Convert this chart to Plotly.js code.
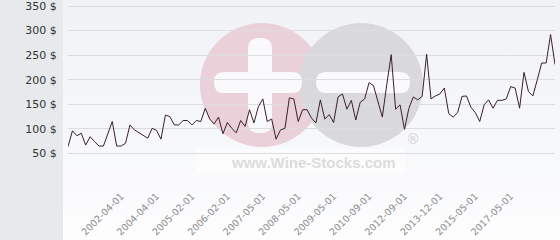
<!DOCTYPE html>
<html>
<head>
<meta charset="utf-8">
<script src="https://cdn.plot.ly/plotly-3.0.1.min.js"></script>
<style>
  html, body { margin: 0; padding: 0; }
  #wrap {
    width: 560px; height: 240px;
    background:
      linear-gradient(to right, #e6eaed 0px, #e6eaed 63px, rgba(0,0,0,0) 63px),
      linear-gradient(to bottom, #f1f2f6 0%, #f7f8fa 60%, #fdfdfe 100%);
  }
  #chart { width: 560px; height: 240px; }
</style>
</head>
<body>
<div id="wrap"><div id="chart"></div></div>
<script>
// ---- data ----
const prices = [
  64, 96, 86, 91, 67, 84, 74, 65, 65, 90,
  115, 65, 65, 71, 108, 98, 92, 87, 81, 101,
  97, 79, 128, 125, 108, 108, 117, 117, 108, 117,
  115, 142, 120, 110, 124, 90, 113, 101, 92, 117,
  105, 139, 112, 145, 161, 115, 120, 79, 98, 101,
  163, 161, 115, 139, 139, 122, 112, 159, 120, 129,
  113, 165, 171, 140, 158, 118, 154, 161, 194, 188,
  156, 124, 190, 251, 140, 149, 99, 142, 165, 159,
  166, 252, 161, 167, 171, 183, 131, 124, 133, 166,
  167, 144, 133, 115, 149, 159, 142, 158, 158, 161,
  186, 183, 142, 215, 176, 167, 200, 234, 234, 292,
  231
];
const pointIndex = prices.map((_, i) => i);
const tickIndex = [12, 20, 28, 36, 44, 52, 60, 68, 76, 84, 92, 100];
const tickLabels = ['2002-04-01', '2004-04-01', '2005-02-01', '2006-02-01',
  '2007-05-01', '2008-05-01', '2009-05-01', '2010-09-01', '2012-09-01',
  '2013-12-01', '2015-05-01', '2017-05-01'];
const yTickValues = [0, 50, 100, 150, 200, 250, 300, 350];
const yTickText = yTickValues.map(v => v === 0 ? '' : v + ' $');

// ---- layout geometry (for the watermark decoration) ----
const W = 560, H = 240;
const M = { l: 68, r: 5, t: 0, b: 62 };
const pw = W - M.l - M.r, ph = H - M.t - M.b;
const yTop = 350 * ph / (ph - 6);   // puts the 350 gridline 6px below the top
const PX = x => (x - M.l) / pw;
const PY = y => (H - M.b - y) / ph;

function roundRect(x0, y0, x1, y1, r) {
  const p = (x, y) => PX(x) + ',' + PY(y);
  return 'M' + p(x0 + r, y0) + ' L' + p(x1 - r, y0) + ' Q' + p(x1, y0) + ' ' + p(x1, y0 + r) +
    ' L' + p(x1, y1 - r) + ' Q' + p(x1, y1) + ' ' + p(x1 - r, y1) +
    ' L' + p(x0 + r, y1) + ' Q' + p(x0, y1) + ' ' + p(x0, y1 - r) +
    ' L' + p(x0, y0 + r) + ' Q' + p(x0, y0) + ' ' + p(x0 + r, y0) + ' Z';
}

const shapes = [
  { type: 'circle', xref: 'paper', yref: 'paper', layer: 'below',
    x0: PX(200), x1: PX(324), y0: PY(147), y1: PY(23),
    fillcolor: '#ead0d9', line: { width: 0 } },
  { type: 'circle', xref: 'paper', yref: 'paper', layer: 'below',
    x0: PX(299), x1: PX(423), y0: PY(147), y1: PY(23),
    fillcolor: '#d9d9db', line: { width: 0 } },
  { type: 'path', xref: 'paper', yref: 'paper', layer: 'below',
    path: roundRect(248, 38, 272, 133, 11), fillcolor: '#fafafc', line: { width: 0 } },
  { type: 'path', xref: 'paper', yref: 'paper', layer: 'below',
    path: roundRect(214, 72, 302, 93, 10), fillcolor: '#fafafc', line: { width: 0 } },
  { type: 'path', xref: 'paper', yref: 'paper', layer: 'below',
    path: roundRect(316, 72, 410, 93, 10), fillcolor: '#fafafc', line: { width: 0 } },
  { type: 'rect', xref: 'paper', yref: 'paper', layer: 'below',
    x0: PX(196), x1: PX(405), y0: PY(173), y1: PY(149),
    fillcolor: 'rgba(255,255,255,0.55)', line: { width: 0 } }
];

const annotations = [
  { xref: 'paper', yref: 'paper', x: PX(313), y: PY(162), showarrow: false,
    text: '<b>www.Wine-Stocks.com</b>', xanchor: 'center', yanchor: 'middle',
    font: { family: 'Liberation Sans, Arial, sans-serif', size: 15, color: '#dcdcdc' } },
  { xref: 'paper', yref: 'paper', x: PX(413), y: PY(139), showarrow: false,
    text: '®', xanchor: 'center', yanchor: 'middle',
    font: { family: 'DejaVu Sans, sans-serif', size: 14, color: '#d2d2d2' } }
];

const trace = {
  x: pointIndex, y: prices, type: 'scatter', mode: 'lines',
  line: { color: '#3a1f2b', width: 1 }, hoverinfo: 'skip'
};

const layout = {
  width: W, height: H,
  margin: { l: M.l, r: M.r, t: M.t, b: M.b, pad: 0 },
  paper_bgcolor: 'rgba(0,0,0,0)', plot_bgcolor: 'rgba(0,0,0,0)',
  showlegend: false,
  xaxis: {
    range: [0, prices.length - 1], tickmode: 'array',
    tickvals: tickIndex, ticktext: tickLabels, tickangle: -45,
    showgrid: false, zeroline: false, showline: false,
    ticks: 'outside', ticklen: 8, tickcolor: 'rgba(0,0,0,0)',
    tickfont: { family: 'DejaVu Sans, sans-serif', size: 9.5, color: '#8c8c8c' }
  },
  yaxis: {
    range: [0, yTop], tickmode: 'array', tickvals: yTickValues, ticktext: yTickText,
    showgrid: true, gridcolor: '#dcdde0', gridwidth: 1,
    zeroline: false, showline: false, ticklabeloverflow: 'allow',
    ticks: 'outside', ticklen: 8, tickcolor: 'rgba(0,0,0,0)',
    tickfont: { family: 'DejaVu Sans, sans-serif', size: 11, color: '#333333' }
  },
  shapes: shapes,
  annotations: annotations
};

Plotly.newPlot('chart', [trace], layout, { staticPlot: true, displayModeBar: false });
</script>
</body>
</html>
